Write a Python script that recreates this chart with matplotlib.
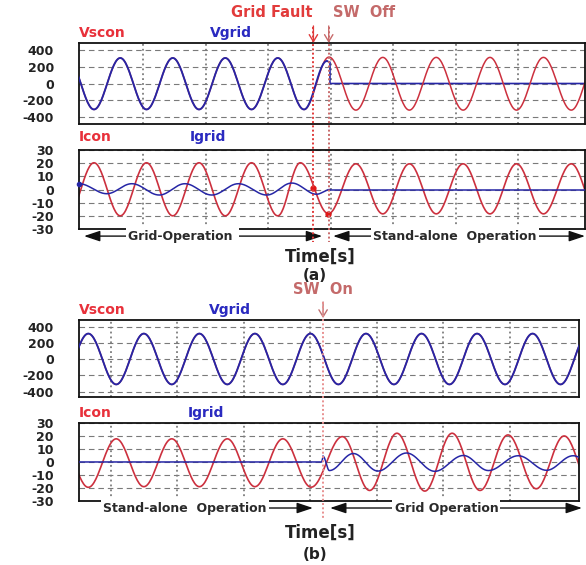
import numpy as np
import matplotlib.pyplot as plt
from matplotlib.lines import Line2D
from matplotlib.transforms import blended_transform_factory

# times in ms, values read at each peak / trough of the traces

# ---- (a) grid fault, then switch off -> stand-alone
t_fault_a = 74.5
t_swoff_a = 79.4

vscon_a_t = [-4.1, 4.3, 12.7, 21.1, 29.5, 37.9, 46.3, 54.7, 63.1, 71.5,
             79.5, 88.1, 96.7, 105.2, 113.8, 122.4, 131.0, 139.5, 148.1, 157.0, 165.5]
vscon_a_v = [305, -310, 305, -310, 305, -310, 305, -310, 305, -310,
             316, -318, 312, -318, 312, -318, 312, -318, 312, -318, 312]

vgrid_a_t = [-4.1, 4.3, 12.7, 21.1, 29.5, 37.9, 46.3, 54.7, 63.1, 71.5, 78.8]
vgrid_a_v = [305, -310, 305, -310, 305, -310, 305, -310, 305, -310, 268]
vgrid_a_tail_t = [78.8, 79.8, 79.8, 161.4]
vgrid_a_tail_v = [268, 255, 0, 0]

icon_a_t = [-4.1, 4.3, 12.7, 21.1, 29.5, 37.9, 46.3, 54.7, 63.1, 70.3,
            79.3, 88.1, 96.7, 105.2, 113.8, 122.4, 131.0, 139.5, 148.1, 157.0, 165.5]
icon_a_v = [-20, 20.3, -20, 20.3, -20, 20.3, -20, 20.3, -20, 20.3,
            -18.3, 19.5, -18.5, 19.5, -18.5, 19.5, -18.5, 19.5, -18.5, 19.5, -18.5]
icon_a_mark_t = [74.5, 79.3]
icon_a_mark_v = [1.5, -18.3]

igrid_a_t = [-0.5, 8.4, 16.4, 25.2, 33.4, 42.0, 50.5, 59.6, 67.6, 75.5, 79.8]
igrid_a_v = [4.4, -3.2, 4.4, -4.2, 4.4, -4.2, 4.4, -4.2, 4.9, -3.6, 0]
igrid_a_tail_t = [79.8, 161.4]
igrid_a_tail_v = [0, 0]

# ---- (b) stand-alone, then switch on -> grid
t_swon_b = 83.8

vscon_b_t = [4.9, 13.2, 21.6, 29.9, 38.3, 46.6, 55.0, 63.3, 71.7, 80.0,
             88.4, 96.7, 105.1, 113.4, 121.8, 130.1, 138.5, 146.8, 155.2, 163.5]
vscon_b_v = [-310, 315, -310, 315, -310, 315, -310, 315, -310, 315,
             -310, 315, -310, 315, -310, 315, -310, 315, -310, 315]

icon_b_t = [4.9, 13.2, 21.6, 29.9, 38.3, 46.6, 55.0, 63.3, 71.7, 80.2,
            89.6, 97.8, 106.0, 114.4, 122.6, 131.0, 139.4, 147.9, 156.3, 164.6]
icon_b_v = [17.8, -19.5, 17.8, -19, 17.8, -19, 17.8, -19, 17.8, -19.4,
            19.5, -21.9, 22.1, -22.4, 22.1, -21.9, 20.8, -20.6, 20.0, -20.0]

igrid_b_head_t = [10.4, 83.4, 83.8]
igrid_b_head_v = [0, 0, 4.3]
igrid_b_t = [83.8, 85.7, 92.9, 100.3, 108.9, 117.4, 126.0, 133.5, 142.5, 151.0, 159.0, 167.0]
igrid_b_v = [4.3, -6.6, 6.5, -7.0, 6.9, -7.2, 5.0, -6.6, 4.8, -6.4, 4.8, -6.4]

grid_ms = [20, 40, 60, 80, 100, 120, 140]
v_ticks = [400, 200, 0, -200, -400]
i_ticks = [30, 20, 10, 0, -10, -20, -30]

RED = '#cc303e'
BLUE = '#2626a6'
LRED = '#e8303a'
LBLUE = '#2a2ac0'


def halfcos(tp, vp, n=30):
    # smooth half-cycle between consecutive extrema
    tt, vv = [], []
    for t0, t1, v0, v1 in zip(tp[:-1], tp[1:], vp[:-1], vp[1:]):
        s = np.linspace(0, 1, n)
        tt.append(t0 + (t1 - t0) * s)
        vv.append(v1 + (v0 - v1) * (1 + np.cos(np.pi * s)) / 2)
    return np.concatenate(tt), np.concatenate(vv)


def style(ax, xlim, ylim, yticks):
    ax.set_xlim(xlim)
    ax.set_ylim(ylim)
    ax.set_yticks(yticks)
    ax.set_yticklabels([str(v) for v in yticks], fontweight='bold', fontsize=9, color='#222222')
    ax.set_xticks(grid_ms)
    ax.tick_params(length=0, labelbottom=False, pad=18)
    ax.grid(axis='y', linestyle=(0, (5, 3.5)), lw=0.8, color='#7a7a7a')
    ax.grid(axis='x', linestyle=(0, (1.2, 2)), lw=1.1, color='#666666')
    for s in ax.spines.values():
        s.set_linewidth(1.3)
        s.set_color('#111111')


def labels(ax, left, right, xr, y):
    ax.text(0.0, y, left, transform=ax.transAxes, color=LRED, fontsize=10,
            fontweight='bold', va='center', ha='left')
    ax.text(xr, y, right, transform=ax.transAxes, color=LBLUE, fontsize=10,
            fontweight='bold', va='center', ha='left')


def span_arrow(ax, t0, t1, y, style_, text, tx):
    ax.annotate('', xy=(t1, y), xytext=(t0, y), xycoords=('data', 'axes fraction'),
                arrowprops=dict(arrowstyle=style_ + ',head_length=0.75,head_width=0.25',
                                color='#111111', lw=1.0, shrinkA=0, shrinkB=0,
                                mutation_scale=13),
                annotation_clip=False)
    tr = blended_transform_factory(ax.transData, ax.transAxes)
    ax.text(tx, y, text, transform=tr, ha='center', va='center', fontsize=9,
            fontweight='bold', color='#2a2a2a',
            bbox=dict(fc='white', ec='none', pad=1.5))


fig = plt.figure(figsize=(5.86, 5.65), dpi=100)
ax_a1 = fig.add_axes([0.1348, 0.7805, 0.8635, 0.1434])
ax_a2 = fig.add_axes([0.1348, 0.5947, 0.8635, 0.1398])
ax_b1 = fig.add_axes([0.1348, 0.2973, 0.8532, 0.1363])
ax_b2 = fig.add_axes([0.1348, 0.1133, 0.8532, 0.1381])

xlim_a = (-0.5, 161.4)
xlim_b = (10.4, 160.75)

# ---- (a) voltages
t, v = halfcos(vscon_a_t, vscon_a_v)
ax_a1.plot(t, v, color=RED, lw=1.1, zorder=2.5)
ax_a1.plot(vgrid_a_tail_t, vgrid_a_tail_v, color=BLUE, lw=1.2, zorder=2.2)
t, v = halfcos(vgrid_a_t, vgrid_a_v)
ax_a1.plot(t, v, color=BLUE, lw=1.35, zorder=3)
style(ax_a1, xlim_a, (-484, 484), v_ticks)
labels(ax_a1, 'Vscon', 'Vgrid', 0.259, 1.123)

# ---- (a) currents
t, v = halfcos(icon_a_t, icon_a_v)
ax_a2.plot(t, v, color=RED, lw=1.2, zorder=2.5)
t, v = halfcos(igrid_a_t, igrid_a_v)
ax_a2.plot(t, v, color=BLUE, lw=1.1, zorder=3)
ax_a2.plot(igrid_a_tail_t, igrid_a_tail_v, color=BLUE, lw=1.1, zorder=3)
ax_a2.plot(icon_a_mark_t, icon_a_mark_v, 'o', color='#e01818', ms=3.5, zorder=4)
ax_a2.plot([igrid_a_t[0]], [igrid_a_v[0]], 'o', color=BLUE, ms=3, zorder=4, clip_on=False)
style(ax_a2, xlim_a, (-30, 30), i_ticks)
labels(ax_a2, 'Icon', 'Igrid', 0.219, 1.165)
span_arrow(ax_a2, 1.1, 77.3, -0.09, '<|-|>', 'Grid-Operation ', 32.5)
span_arrow(ax_a2, 80.8, 161.4, -0.09, '<|-|>', 'Stand-alone  Operation', 119.8)

# ---- (b) voltages
t, v = halfcos(vscon_b_t, vscon_b_v)
ax_b1.plot(t, v, color=RED, lw=1.1, zorder=2.5)
ax_b1.plot(t, v, color=BLUE, lw=1.35, zorder=3)
style(ax_b1, xlim_b, (-465, 482), v_ticks)
labels(ax_b1, 'Vscon', 'Vgrid', 0.26, 1.13)

# ---- (b) currents
t, v = halfcos(icon_b_t, icon_b_v)
ax_b2.plot(t, v, color=RED, lw=1.2, zorder=2.5)
ax_b2.plot(igrid_b_head_t, igrid_b_head_v, color=BLUE, lw=1.1, zorder=3)
t, v = halfcos(igrid_b_t, igrid_b_v)
ax_b2.plot(t, v, color=BLUE, lw=1.1, zorder=3)
style(ax_b2, xlim_b, (-30, 30), i_ticks)
labels(ax_b2, 'Icon', 'Igrid', 0.218, 1.128)
span_arrow(ax_b2, 42.3, 80.75, -0.09, '-|>', 'Stand-alone  Operation', 42.3)
span_arrow(ax_b2, 85.9, 161.65, -0.09, '<|-|>', 'Grid Operation', 120.9)

# ---- event markers (x in data, y in figure)
tr_a = blended_transform_factory(ax_a1.transData, fig.transFigure)
tr_b = blended_transform_factory(ax_b1.transData, fig.transFigure)

for tx, col in [(t_fault_a, '#e03a3a'), (t_swoff_a, '#c86a6a')]:
    fig.add_artist(Line2D([tx, tx], [0.952, 0.572], transform=tr_a, color=col,
                          lw=1.4, linestyle=(0, (1, 1.2)), zorder=5))
    ax_a1.annotate('', xy=(tx, 0.924), xytext=(tx, 0.954), xycoords=tr_a,
                   arrowprops=dict(arrowstyle='->,head_length=0.5,head_width=0.3',
                                   color=col, lw=1.0, shrinkA=0, shrinkB=0),
                   annotation_clip=False)
ax_a1.text(t_fault_a - 0.3, 0.977, 'Grid Fault', transform=tr_a, ha='right', va='center',
           color='#e23b3b', fontsize=10.5, fontweight='bold')
ax_a1.text(t_swoff_a + 1.3, 0.977, 'SW  Off', transform=tr_a, ha='left', va='center',
           color='#c46a6a', fontsize=10.5, fontweight='bold')

fig.add_artist(Line2D([t_swon_b, t_swon_b], [0.4655, 0.081], transform=tr_b, color='#e89090',
                      lw=1.4, linestyle=(0, (1, 1.2)), zorder=5))
ax_b1.annotate('', xy=(t_swon_b, 0.437), xytext=(t_swon_b, 0.4655), xycoords=tr_b,
               arrowprops=dict(arrowstyle='->,head_length=0.5,head_width=0.3',
                               color='#c07070', lw=1.0, shrinkA=0, shrinkB=0),
               annotation_clip=False)
ax_b1.text(t_swon_b, 0.487, 'SW  On', transform=tr_b, ha='center', va='center',
           color='#c46a6a', fontsize=10.5, fontweight='bold')

fig.text(0.546, 0.545, 'Time[s]', fontsize=12, fontweight='bold', ha='center', va='center', color='#222222')
fig.text(0.5375, 0.513, '(a)', fontsize=11, fontweight='bold', ha='center', va='center', color='#222222')
fig.text(0.546, 0.0566, 'Time[s]', fontsize=12, fontweight='bold', ha='center', va='center', color='#222222')
fig.text(0.5375, 0.0177, '(b)', fontsize=11, fontweight='bold', ha='center', va='center', color='#222222')

fig.savefig('out.png', dpi=100)
